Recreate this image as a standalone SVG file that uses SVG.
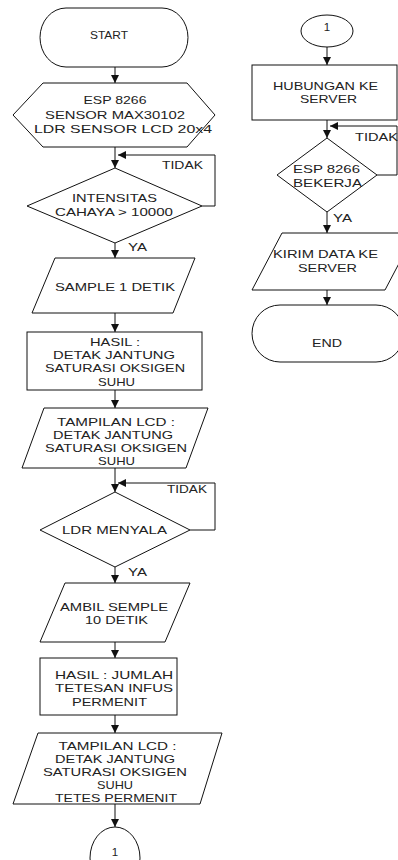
<svg xmlns="http://www.w3.org/2000/svg" width="398" height="860" viewBox="0 0 398 860">
<style>
.s{fill:#fff;stroke:#111;stroke-width:1}
.c{fill:none;stroke:#111;stroke-width:1}
text{font-family:"Liberation Sans",Arial,sans-serif;font-size:11.5px;fill:#222}
.m{text-anchor:middle}
</style>
<defs>
<marker id="ah" viewBox="0 0 10 10" refX="10" refY="5" markerWidth="8" markerHeight="8" markerUnits="userSpaceOnUse" orient="auto"><path d="M0,0 L10,5 L0,10 z" fill="#111"/></marker>
</defs>
<rect width="398" height="860" fill="#fff"/>
<g id="connectors">
<path class="c" marker-end="url(#ah)" d="M115,67 V83"/>
<path class="c" marker-end="url(#ah)" d="M115,147 V168"/>
<path class="c" marker-end="url(#ah)" d="M202,206 H215 V155 H118"/>
<path class="c" marker-end="url(#ah)" d="M115,243 V258"/>
<path class="c" marker-end="url(#ah)" d="M115,313 V332"/>
<path class="c" marker-end="url(#ah)" d="M115,390 V408"/>
<path class="c" marker-end="url(#ah)" d="M115,468 V492"/>
<path class="c" marker-end="url(#ah)" d="M190,530 H215 V483 H118"/>
<path class="c" marker-end="url(#ah)" d="M115,567 V583"/>
<path class="c" marker-end="url(#ah)" d="M115,642 V658"/>
<path class="c" marker-end="url(#ah)" d="M115,715 V733"/>
<path class="c" marker-end="url(#ah)" d="M115,804 V827"/>
<path class="c" marker-end="url(#ah)" d="M327,47 V65"/>
<path class="c" marker-end="url(#ah)" d="M327,120 V138"/>
<path class="c" marker-end="url(#ah)" d="M377,175 H397 V126 H330"/>
<path class="c" marker-end="url(#ah)" d="M327,212 V233"/>
<path class="c" marker-end="url(#ah)" d="M327,290 V305"/>
<text x="162" y="169" textLength="41" lengthAdjust="spacingAndGlyphs">TIDAK</text>
<text x="128" y="251" textLength="19" lengthAdjust="spacingAndGlyphs">YA</text>
<text x="167" y="493" textLength="40" lengthAdjust="spacingAndGlyphs">TIDAK</text>
<text x="128" y="576" textLength="19" lengthAdjust="spacingAndGlyphs">YA</text>
<text x="355" y="141" textLength="43" lengthAdjust="spacingAndGlyphs">TIDAK</text>
<text x="333" y="222" textLength="19" lengthAdjust="spacingAndGlyphs">YA</text>
</g>
<g id="start">
<path class="s" d="M66,8 H162 A26,29.5 0 0 1 162,67 H66 A26,29.5 0 0 1 66,8 Z"/>
<text class="m" x="109" y="39" textLength="38" lengthAdjust="spacingAndGlyphs">START</text>
</g>
<g id="init">
<polygon class="s" points="43,83 187,83 215,115 187,147 43,147 13,115"/>
<text class="m" x="115" y="104" textLength="63" lengthAdjust="spacingAndGlyphs">ESP 8266</text>
<text class="m" x="115" y="119" textLength="140" lengthAdjust="spacingAndGlyphs">SENSOR MAX30102</text>
<text class="m" x="123" y="133" textLength="178" lengthAdjust="spacingAndGlyphs">LDR SENSOR LCD 20x4</text>
</g>
<g id="cek-cahaya">
<polygon class="s" points="115,168 202,206 115,243 27,206"/>
<text class="m" x="114.5" y="202" textLength="85" lengthAdjust="spacingAndGlyphs">INTENSITAS</text>
<text class="m" x="114" y="216" textLength="118" lengthAdjust="spacingAndGlyphs">CAHAYA &gt; 10000</text>
</g>
<g id="sample1">
<polygon class="s" points="55,258 195,258 173,313 32,313"/>
<text class="m" x="115" y="291" textLength="120" lengthAdjust="spacingAndGlyphs">SAMPLE 1 DETIK</text>
</g>
<g id="hasil1">
<rect class="s" x="27" y="332" width="175" height="58"/>
<text class="m" x="115" y="346" textLength="50" lengthAdjust="spacingAndGlyphs">HASIL :</text>
<text class="m" x="114" y="359" textLength="122" lengthAdjust="spacingAndGlyphs">DETAK JANTUNG</text>
<text class="m" x="115" y="372" textLength="140" lengthAdjust="spacingAndGlyphs">SATURASI OKSIGEN</text>
<text class="m" x="116.5" y="386" textLength="37" lengthAdjust="spacingAndGlyphs">SUHU</text>
</g>
<g id="lcd1">
<polygon class="s" points="44,408 208,408 186,468 22,468"/>
<text class="m" x="116" y="426" textLength="118" lengthAdjust="spacingAndGlyphs">TAMPILAN LCD :</text>
<text class="m" x="113" y="439" textLength="120" lengthAdjust="spacingAndGlyphs">DETAK JANTUNG</text>
<text class="m" x="116" y="452" textLength="142" lengthAdjust="spacingAndGlyphs">SATURASI OKSIGEN</text>
<text class="m" x="116.5" y="465" textLength="37" lengthAdjust="spacingAndGlyphs">SUHU</text>
</g>
<g id="cek-ldr">
<polygon class="s" points="115,492 190,530 115,567 40,530"/>
<text class="m" x="114.5" y="534" textLength="105" lengthAdjust="spacingAndGlyphs">LDR MENYALA</text>
</g>
<g id="sample10">
<polygon class="s" points="65,583 190,583 165,642 40,642"/>
<text class="m" x="114" y="611" textLength="108" lengthAdjust="spacingAndGlyphs">AMBIL SEMPLE</text>
<text class="m" x="116.5" y="624" textLength="63" lengthAdjust="spacingAndGlyphs">10 DETIK</text>
</g>
<g id="hasil2">
<rect class="s" x="40" y="658" width="137" height="57"/>
<text class="m" x="114" y="679" textLength="118" lengthAdjust="spacingAndGlyphs">HASIL : JUMLAH</text>
<text class="m" x="114" y="692" textLength="118" lengthAdjust="spacingAndGlyphs">TETESAN INFUS</text>
<text class="m" x="109.5" y="706" textLength="75" lengthAdjust="spacingAndGlyphs">PERMENIT</text>
</g>
<g id="lcd2">
<polygon class="s" points="38,733 222,733 200,804 13,804"/>
<text class="m" x="117.5" y="750" textLength="118" lengthAdjust="spacingAndGlyphs">TAMPILAN LCD :</text>
<text class="m" x="115" y="763" textLength="120" lengthAdjust="spacingAndGlyphs">DETAK JANTUNG</text>
<text class="m" x="115" y="776" textLength="144" lengthAdjust="spacingAndGlyphs">SATURASI OKSIGEN</text>
<text class="m" x="115" y="789" textLength="36" lengthAdjust="spacingAndGlyphs">SUHU</text>
<text class="m" x="116" y="802" textLength="122" lengthAdjust="spacingAndGlyphs">TETES PERMENIT</text>
</g>
<g id="conn-out">
<ellipse class="s" cx="115" cy="858" rx="25" ry="31"/>
<text class="m" x="115" y="856">1</text>
</g>
<g id="conn-in">
<ellipse class="s" cx="327" cy="31" rx="26" ry="16"/>
<text class="m" x="327" y="31">1</text>
</g>
<g id="hubungan">
<rect class="s" x="252" y="65" width="145" height="55"/>
<text class="m" x="325.5" y="90" textLength="105" lengthAdjust="spacingAndGlyphs">HUBUNGAN KE</text>
<text class="m" x="328.5" y="103" textLength="57" lengthAdjust="spacingAndGlyphs">SERVER</text>
</g>
<g id="cek-esp">
<polygon class="s" points="327,138 377,175 327,212 277,175"/>
<text class="m" x="326.5" y="173" textLength="67" lengthAdjust="spacingAndGlyphs">ESP 8266</text>
<text class="m" x="327.5" y="187" textLength="69" lengthAdjust="spacingAndGlyphs">BEKERJA</text>
</g>
<g id="kirim">
<polygon class="s" points="282,233 415,233 385,290 252,290"/>
<text class="m" x="325.5" y="258" textLength="105" lengthAdjust="spacingAndGlyphs">KIRIM DATA KE</text>
<text class="m" x="327.5" y="272" textLength="59" lengthAdjust="spacingAndGlyphs">SERVER</text>
</g>
<g id="end">
<path class="s" d="M280,305 H376 A28,28.5 0 0 1 376,362 H280 A28,28.5 0 0 1 280,305 Z"/>
<text class="m" x="327" y="347" textLength="30" lengthAdjust="spacingAndGlyphs">END</text>
</g>
</svg>
